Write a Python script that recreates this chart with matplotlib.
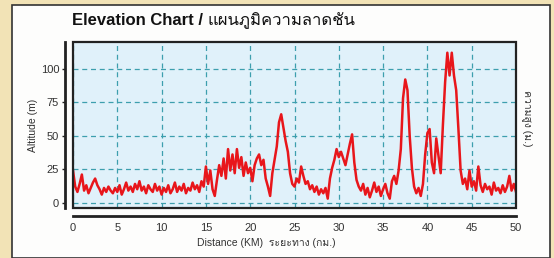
import matplotlib
matplotlib.use("Agg")
import matplotlib.pyplot as plt
from matplotlib import font_manager
from matplotlib.ft2font import FT2Font
from matplotlib.patches import Rectangle
import numpy as np

# ---------------- data ----------------
distance_km = [i * 0.25 for i in range(201)]
altitude_m = [
    24, 12, 8, 14, 21, 9, 13, 7, 11, 15, 18, 13, 10, 6, 11, 8, 12, 9, 7, 11,
    8, 13, 6, 10, 15, 9, 12, 8, 14, 10, 16, 9, 12, 7, 13, 10, 8, 14, 9, 12,
    6, 11, 8, 13, 7, 10, 15, 8, 12, 9, 14, 7, 11, 9, 15, 10, 13, 8, 16, 12,
    27, 14, 24, 10, 5, 17, 28, 20, 33, 18, 40, 24, 36, 22, 40, 26, 34, 20, 30, 22,
    26, 16, 28, 33, 36, 28, 32, 18, 12, 5, 22, 32, 42, 60, 66, 56, 46, 38, 22, 14,
    12, 18, 15, 27, 20, 14, 16, 10, 13, 8, 12, 6, 10, 7, 11, 3, 18, 26, 32, 40,
    34, 38, 33, 28, 36, 44, 51, 30, 17, 12, 9, 14, 6, 11, 4, 9, 15, 8, 12, 5,
    10, 14, 7, 3, 16, 20, 14, 24, 40, 78, 92, 84, 50, 26, 12, 7, 11, 5, 14, 36,
    52, 55, 30, 22, 48, 35, 22, 58, 90, 112, 95, 112, 95, 84, 55, 24, 14, 18, 10, 24,
    12, 16, 9, 27, 13, 8, 14, 10, 12, 6, 15, 9, 11, 7, 13, 8, 12, 20, 9, 14,
    8,
]
x_ticks = [0, 5, 10, 15, 20, 25, 30, 35, 40, 45, 50]
y_ticks = [0, 25, 50, 75, 100]

title_en = "Elevation Chart / "
title_th = "แผนภูมิความลาดชัน"
xlabel_text = "Distance (KM)  ระยะทาง (กม.)"
ylabel_left = "Altitude (m)"
ylabel_right = "ความสูง (ม.)"

# ---------------- fonts ----------------
def find_thai_font():
    for f in font_manager.fontManager.ttflist:
        try:
            ft = FT2Font(f.fname)
            cm = ft.get_charmap()
            if 0x0E01 in cm and 0x0E32 in cm:
                return f.name
        except Exception:
            pass
    return None

thai = find_thai_font()
fam = ["Liberation Sans", "DejaVu Sans"]
if thai:
    fam = ["Liberation Sans", thai, "DejaVu Sans"]
plt.rcParams["font.family"] = fam

W, H = 554, 258
fig = plt.figure(figsize=(W / 100, H / 100), dpi=100)
fig.patch.set_facecolor("#f2e3b6")

# white panel
panel = Rectangle((12 / W, 0.0), (550 - 12) / W, (258 - 5) / H,
                  transform=fig.transFigure, facecolor="#fdfdfc",
                  edgecolor="#333333", linewidth=1.2, zorder=-10)
fig.patches.append(panel)

ax = fig.add_axes([73 / W, 1 - 208 / H, (516 - 73) / W, (208 - 42) / H])
ax.set_zorder(5)
ax.set_facecolor("#e0f1fa")
ax.plot(distance_km, altitude_m, color="#e8161b", linewidth=1.8, zorder=3)

ax.set_xlim(0, 50)
ax.set_ylim(-4, 120)
ax.set_xticks(x_ticks)
ax.set_yticks(y_ticks)
ax.set_xticklabels([str(v) for v in x_ticks])
ax.set_yticklabels([str(v) for v in y_ticks])

ax.grid(True, color="#3d9fae", linestyle=(0, (4, 3)), linewidth=0.9, zorder=1)

for s in ["top", "right"]:
    ax.spines[s].set_visible(False)
ax.spines["left"].set_position(("outward", 6))
ax.spines["bottom"].set_position(("outward", 6))
ax.spines["left"].set_linewidth(2.0)
ax.spines["bottom"].set_linewidth(2.0)
ax.spines["left"].set_color("#222222")
ax.spines["bottom"].set_color("#222222")

frame = Rectangle((0, 0), 1, 1, transform=ax.transAxes, fill=False,
                  edgecolor="#222222", linewidth=1.6, zorder=5, clip_on=False)
ax.add_patch(frame)

ax.tick_params(axis="y", length=2, width=1, colors="#222222", labelsize=8,
               labelcolor="#333333", pad=2)
ax.tick_params(axis="x", length=0, labelsize=8, labelcolor="#333333", pad=5)

fig.text(33 / W, 1 - 125 / H, ylabel_left, rotation=90, ha="center",
         va="center", fontsize=7.5, color="#333333")
fig.text(527 / W, 1 - 118 / H, ylabel_right, rotation=270, ha="center",
         va="center", fontsize=7.5, color="#333333")
fig.text(266 / W, 1 - 243 / H, xlabel_text, ha="center", va="center",
         fontsize=7.5, color="#333333")
title_y = 1 - 25 / H
t_en = fig.text(72 / W, title_y, title_en, ha="left", va="baseline",
                fontsize=12, fontweight="bold", color="#111111")
fig.canvas.draw()
bb = t_en.get_window_extent(renderer=fig.canvas.get_renderer())
fig.text(bb.x1 / W, title_y, title_th, ha="left", va="baseline",
         fontsize=12, color="#111111")

fig.savefig("out.png", dpi=100, facecolor=fig.get_facecolor())
